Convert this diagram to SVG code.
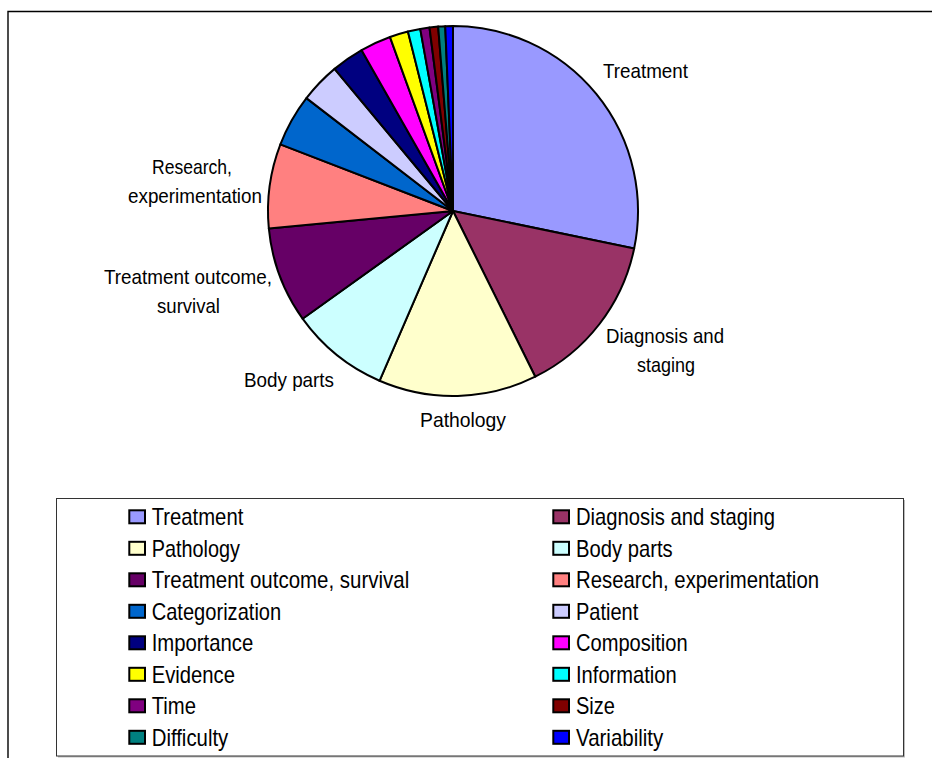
<svg xmlns="http://www.w3.org/2000/svg" width="932" height="758" viewBox="0 0 932 758">
  <style>
    text { font-family: "Liberation Sans", Arial, sans-serif; fill: #000; }
    .lbl { font-size: 21px; }
    .leg { font-size: 23.2px; }
    .slice { stroke: #000; stroke-width: 2; stroke-linejoin: round; }
    .key { stroke: #000; stroke-width: 2; }
  </style>
  <rect width="932" height="758" fill="#fff"/>
  <!-- chart area frame (left and top edges visible) -->
  <path d="M8,758 V11.5 H932" fill="none" stroke="#000" stroke-width="1.4"/>

  <!-- pie slices, clockwise from 12 o'clock -->
  <g id="pie">
    <path id="s-treatment" class="slice" fill="#9999FF" d="M453,211 L453,26 A185,185 0 0 1 634.15,248.52 Z"/>
    <path id="s-diagnosis" class="slice" fill="#993366" d="M453,211 L634.15,248.52 A185,185 0 0 1 535.26,376.70 Z"/>
    <path id="s-pathology" class="slice" fill="#FFFFCC" d="M453,211 L535.26,376.70 A185,185 0 0 1 379.53,380.79 Z"/>
    <path id="s-bodyparts" class="slice" fill="#CCFFFF" d="M453,211 L379.53,380.79 A185,185 0 0 1 302.58,318.69 Z"/>
    <path id="s-outcome" class="slice" fill="#660066" d="M453,211 L302.58,318.69 A185,185 0 0 1 268.82,228.41 Z"/>
    <path id="s-research" class="slice" fill="#FF8080" d="M453,211 L268.82,228.41 A185,185 0 0 1 280.39,144.40 Z"/>
    <path id="s-categorization" class="slice" fill="#0066CC" d="M453,211 L280.39,144.40 A185,185 0 0 1 306.42,98.13 Z"/>
    <path id="s-patient" class="slice" fill="#CCCCFF" d="M453,211 L306.42,98.13 A185,185 0 0 1 334.58,68.86 Z"/>
    <path id="s-importance" class="slice" fill="#000080" d="M453,211 L334.58,68.86 A185,185 0 0 1 361.63,50.14 Z"/>
    <path id="s-composition" class="slice" fill="#FF00FF" d="M453,211 L361.63,50.14 A185,185 0 0 1 390.03,37.04 Z"/>
    <path id="s-evidence" class="slice" fill="#FFFF00" d="M453,211 L390.03,37.04 A185,185 0 0 1 407.93,31.57 Z"/>
    <path id="s-information" class="slice" fill="#00FFFF" d="M453,211 L407.93,31.57 A185,185 0 0 1 420.24,28.92 Z"/>
    <path id="s-time" class="slice" fill="#800080" d="M453,211 L420.24,28.92 A185,185 0 0 1 429.49,27.50 Z"/>
    <path id="s-size" class="slice" fill="#800000" d="M453,211 L429.49,27.50 A185,185 0 0 1 438.16,26.60 Z"/>
    <path id="s-difficulty" class="slice" fill="#008080" d="M453,211 L438.16,26.60 A185,185 0 0 1 445.25,26.16 Z"/>
    <path id="s-variability" class="slice" fill="#0000FF" d="M453,211 L445.25,26.16 A185,185 0 0 1 453,26 Z"/>
  </g>

  <!-- slice labels -->
  <g id="labels" class="lbl">
    <text x="603" y="78" textLength="85" lengthAdjust="spacingAndGlyphs">Treatment</text>
    <text x="606" y="343" textLength="118" lengthAdjust="spacingAndGlyphs">Diagnosis and</text>
    <text x="637" y="372" textLength="58" lengthAdjust="spacingAndGlyphs">staging</text>
    <text x="420" y="427" textLength="86" lengthAdjust="spacingAndGlyphs">Pathology</text>
    <text x="244" y="387" textLength="90" lengthAdjust="spacingAndGlyphs">Body parts</text>
    <text x="104" y="284" textLength="168" lengthAdjust="spacingAndGlyphs">Treatment outcome,</text>
    <text x="157" y="313" textLength="63" lengthAdjust="spacingAndGlyphs">survival</text>
    <text x="152" y="174" textLength="80" lengthAdjust="spacingAndGlyphs">Research,</text>
    <text x="128" y="203" textLength="134" lengthAdjust="spacingAndGlyphs">experimentation</text>
  </g>

  <!-- legend -->
  <g id="legend">
    <rect x="58" y="500" width="847" height="257.5" fill="#bbb"/>
    <rect x="56.5" y="498.5" width="847" height="257.5" fill="#fff" stroke="#333" stroke-width="1"/>
    <g class="leg">
      <g id="k-treatment"><rect class="key" x="129.3" y="510.3" width="15.7" height="13" fill="#9999FF"/><text x="151.7" y="525" textLength="91.6" lengthAdjust="spacingAndGlyphs">Treatment</text></g>
      <g id="k-pathology"><rect class="key" x="129.3" y="541.8" width="15.7" height="13" fill="#FFFFCC"/><text x="151.7" y="556.5" textLength="88.3" lengthAdjust="spacingAndGlyphs">Pathology</text></g>
      <g id="k-outcome"><rect class="key" x="129.3" y="573.3" width="15.7" height="13" fill="#660066"/><text x="151.7" y="588" textLength="257.6" lengthAdjust="spacingAndGlyphs">Treatment outcome, survival</text></g>
      <g id="k-categorization"><rect class="key" x="129.3" y="604.8" width="15.7" height="13" fill="#0066CC"/><text x="151.7" y="619.5" textLength="129.5" lengthAdjust="spacingAndGlyphs">Categorization</text></g>
      <g id="k-importance"><rect class="key" x="129.3" y="636.3" width="15.7" height="13" fill="#000080"/><text x="151.7" y="651" textLength="101.6" lengthAdjust="spacingAndGlyphs">Importance</text></g>
      <g id="k-evidence"><rect class="key" x="129.3" y="667.8" width="15.7" height="13" fill="#FFFF00"/><text x="151.7" y="682.5" textLength="83.3" lengthAdjust="spacingAndGlyphs">Evidence</text></g>
      <g id="k-time"><rect class="key" x="129.3" y="699.3" width="15.7" height="13" fill="#800080"/><text x="151.7" y="714" textLength="44.3" lengthAdjust="spacingAndGlyphs">Time</text></g>
      <g id="k-difficulty"><rect class="key" x="129.3" y="730.8" width="15.7" height="13" fill="#008080"/><text x="151.7" y="745.5" textLength="76.6" lengthAdjust="spacingAndGlyphs">Difficulty</text></g>

      <g id="k-diagnosis"><rect class="key" x="553.3" y="510.3" width="15.7" height="13" fill="#993366"/><text x="576" y="525" textLength="199" lengthAdjust="spacingAndGlyphs">Diagnosis and staging</text></g>
      <g id="k-bodyparts"><rect class="key" x="553.3" y="541.8" width="15.7" height="13" fill="#CCFFFF"/><text x="576" y="556.5" textLength="96.7" lengthAdjust="spacingAndGlyphs">Body parts</text></g>
      <g id="k-research"><rect class="key" x="553.3" y="573.3" width="15.7" height="13" fill="#FF8080"/><text x="576" y="588" textLength="243" lengthAdjust="spacingAndGlyphs">Research, experimentation</text></g>
      <g id="k-patient"><rect class="key" x="553.3" y="604.8" width="15.7" height="13" fill="#CCCCFF"/><text x="576" y="619.5" textLength="62.3" lengthAdjust="spacingAndGlyphs">Patient</text></g>
      <g id="k-composition"><rect class="key" x="553.3" y="636.3" width="15.7" height="13" fill="#FF00FF"/><text x="576" y="651" textLength="111.7" lengthAdjust="spacingAndGlyphs">Composition</text></g>
      <g id="k-information"><rect class="key" x="553.3" y="667.8" width="15.7" height="13" fill="#00FFFF"/><text x="576" y="682.5" textLength="100.7" lengthAdjust="spacingAndGlyphs">Information</text></g>
      <g id="k-size"><rect class="key" x="553.3" y="699.3" width="15.7" height="13" fill="#800000"/><text x="576" y="714" textLength="39" lengthAdjust="spacingAndGlyphs">Size</text></g>
      <g id="k-variability"><rect class="key" x="553.3" y="730.8" width="15.7" height="13" fill="#0000FF"/><text x="576" y="745.5" textLength="87.3" lengthAdjust="spacingAndGlyphs">Variability</text></g>
    </g>
  </g>
</svg>
